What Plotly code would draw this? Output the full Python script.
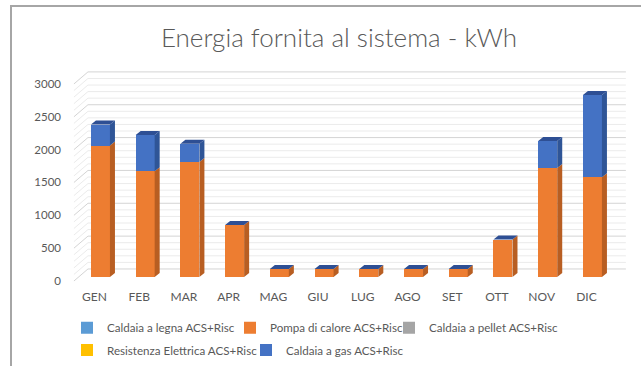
import plotly.graph_objects as go

# Monthly energy supplied to the system, kWh
months = ["GEN", "FEB", "MAR", "APR", "MAG", "GIU", "LUG", "AGO", "SET", "OTT", "NOV", "DIC"]
legna = [0, 0, 0, 0, 0, 0, 0, 0, 0, 0, 0, 0]
pompa = [2000, 1610, 1750, 790, 120, 120, 120, 120, 120, 570, 1660, 1520]
pellet = [0, 0, 0, 0, 0, 0, 0, 0, 0, 0, 0, 0]
resistenza = [0, 0, 0, 0, 0, 0, 0, 0, 0, 0, 0, 0]
gas = [320, 550, 280, 0, 0, 0, 0, 0, 0, 0, 410, 1250]

y_ticks = [0, 500, 1000, 1500, 2000, 2500, 3000]
grid_step = 100

series = [
    ("Caldaia a legna ACS+Risc", legna, "#5B9BD5", "#41719C"),
    ("Pompa di calore ACS+Risc", pompa, "#ED7D31", "#B85E22"),
    ("Caldaia a pellet ACS+Risc", pellet, "#A5A5A5", "#7C7C7C"),
    ("Resistenza Elettrica ACS+Risc", resistenza, "#FFC000", "#BF9000"),
    ("Caldaia a gas ACS+Risc", gas, "#4472C4", "#2F5597"),
]
top_color = "#2E4F94"

# plot-area geometry (pixels) and axis ranges
L, R, T, B = 66, 630, 65, 285
x_range = [-0.77, 11.84]
y_range = [-122, 3227]

bar_w = 0.425        # front face width (category units)
dx, dy = 0.112, 61   # bar depth offset (x units, y units)

# 3D walls: left wall front/back edges, back wall right end, vertical offsets
wall_front_x, wall_back_x, wall_right_x = -0.592, -0.279, 11.748
wall_front_dy, wall_back_dy = -61, 122

text_color = "#595959"
font_family = "Lato"

fig = go.Figure()
legend_ids = ["legend", "legend2", "legend3", "legend4", "legend5"]

xs = list(range(len(months)))
for (name, vals, col, side), lid in zip(series, legend_ids):
    fig.add_trace(go.Bar(
        x=xs, y=vals, name=name, width=bar_w,
        marker=dict(color=col, line=dict(width=0)),
        legend=lid, hoverinfo="skip",
    ))

# side faces of every stacked segment
base = [0] * len(months)
for name, vals, col, side in series:
    px, py = [], []
    for i, v in enumerate(vals):
        b, t = base[i], base[i] + v
        if v > 0:
            xr = i + bar_w / 2
            px += [xr, xr + dx, xr + dx, xr, xr, None]
            py += [b, b + dy, t + dy, t, b, None]
        base[i] = t
    if px:
        fig.add_trace(go.Scatter(
            x=px, y=py, mode="lines", fill="toself", fillcolor=side,
            line=dict(width=0), showlegend=False, hoverinfo="skip",
        ))

# top faces of the stacks
px, py = [], []
for i, total in enumerate(base):
    xl, xr = i - bar_w / 2, i + bar_w / 2
    px += [xl, xl + dx, xr + dx, xr, xl, None]
    py += [total, total + dy, total + dy, total, total, None]
fig.add_trace(go.Scatter(
    x=px, y=py, mode="lines", fill="toself", fillcolor=top_color,
    line=dict(width=0), showlegend=False, hoverinfo="skip",
))

# gridlines on the left and back walls
shapes = []
for v in range(0, y_ticks[-1] + grid_step, grid_step):
    major = v % 500 == 0
    path = (f"M{wall_front_x},{v + wall_front_dy} "
            f"L{wall_back_x},{v + wall_back_dy} "
            f"L{wall_right_x},{v + wall_back_dy}")
    shapes.append(dict(
        type="path", path=path, xref="x", yref="y", layer="below",
        line=dict(color="#D4D4D4" if major else "#EBEBEB", width=1),
    ))

# chart-area border (left and top edges inside the page)
W = R - L
H = B - T
shapes.append(dict(
    type="path", xref="paper", yref="paper",
    path=(f"M{(11 - L) / W},{(B - 366) / H} "
          f"L{(11 - L) / W},{(B - 6) / H} "
          f"L{(641 - L) / W},{(B - 6) / H}"),
    line=dict(color="#A6A6A6", width=2),
))

layout_legends = {}
legend_pos = [(67, 327.7), (230, 327.7), (389, 327.7), (67, 350), (246, 350)]
for lid, (lx, ly) in zip(legend_ids, legend_pos):
    layout_legends[lid] = dict(
        x=(lx - L) / W, y=(B - ly) / H, xanchor="left", yanchor="middle",
        orientation="h", bgcolor="rgba(0,0,0,0)",
        font=dict(family=font_family, size=11.6, color=text_color),
    )

fig.update_layout(
    width=641, height=366,
    margin=dict(l=L, r=641 - R, t=T, b=366 - B, autoexpand=False),
    paper_bgcolor="white", plot_bgcolor="white",
    barmode="stack", bargap=0,
    title=dict(
        text="Energia fornita al sistema - kWh",
        x=339 / 641, xref="container", xanchor="center",
        y=1 - 38 / 366, yref="container", yanchor="middle",
        font=dict(family=font_family, size=26, weight=300, color=text_color),
    ),
    font=dict(family=font_family, color=text_color),
    xaxis=dict(
        range=x_range, tickmode="array", tickvals=xs, ticktext=months,
        showgrid=False, zeroline=False, showline=False, ticks="",
        ticklabelshift=-6, ticklabelstandoff=3,
        tickfont=dict(size=12, color=text_color),
        fixedrange=True,
    ),
    yaxis=dict(
        range=y_range, tickmode="array", tickvals=y_ticks,
        showgrid=False, zeroline=False, showline=False, ticks="",
        ticklabelshift=4, ticklabelstandoff=4,
        tickfont=dict(size=11.5, color=text_color),
        fixedrange=True,
    ),
    shapes=shapes,
    showlegend=True,
    **layout_legends,
)

fig.write_html("out.html")
